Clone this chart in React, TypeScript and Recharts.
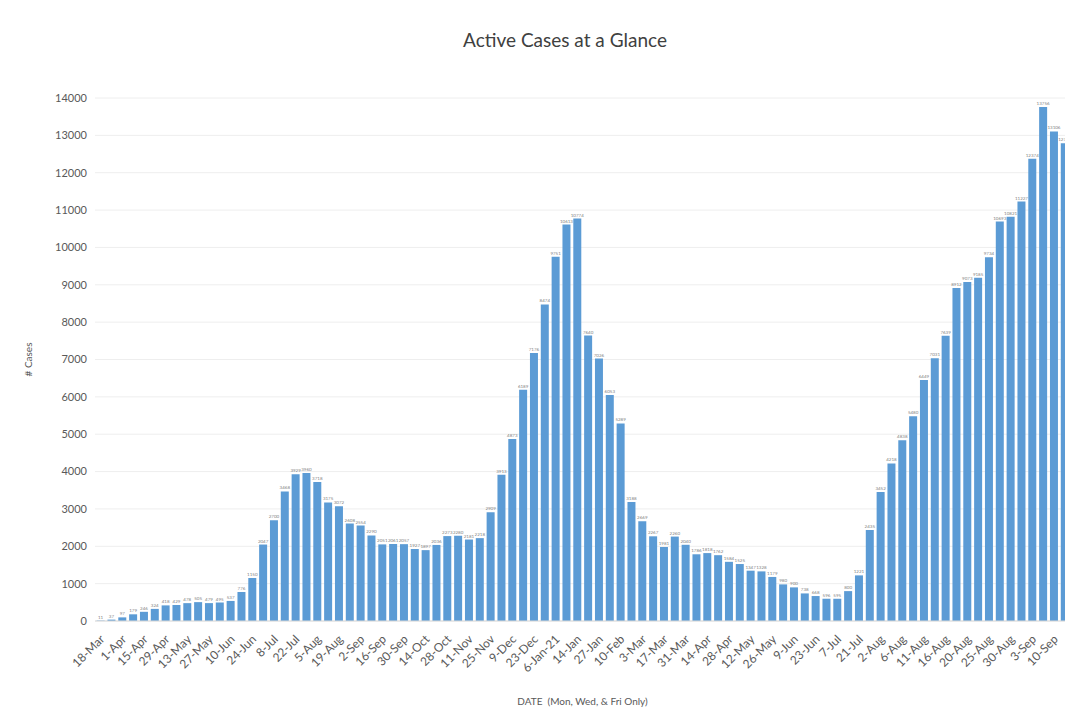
import { BarChart, Bar, XAxis, YAxis, CartesianGrid, LabelList } from "recharts";

const dates = [
  "18-Mar", "25-Mar", "1-Apr", "8-Apr", "15-Apr", "22-Apr", "29-Apr", "6-May", "13-May", "20-May",
  "27-May", "3-Jun", "10-Jun", "17-Jun", "24-Jun", "1-Jul", "8-Jul", "15-Jul", "22-Jul", "29-Jul",
  "5-Aug", "12-Aug", "19-Aug", "26-Aug", "2-Sep", "9-Sep", "16-Sep", "23-Sep", "30-Sep", "7-Oct",
  "14-Oct", "21-Oct", "28-Oct", "4-Nov", "11-Nov", "18-Nov", "25-Nov", "2-Dec", "9-Dec", "16-Dec",
  "23-Dec", "30-Dec", "6-Jan-21", "10-Jan", "14-Jan", "20-Jan", "27-Jan", "3-Feb", "10-Feb", "24-Feb",
  "3-Mar", "10-Mar", "17-Mar", "24-Mar", "31-Mar", "7-Apr", "14-Apr", "21-Apr", "28-Apr", "5-May",
  "12-May", "19-May", "26-May", "2-Jun", "9-Jun", "16-Jun", "23-Jun", "30-Jun", "7-Jul", "14-Jul",
  "21-Jul", "28-Jul", "2-Aug", "4-Aug", "6-Aug", "9-Aug", "11-Aug", "13-Aug", "16-Aug", "18-Aug",
  "20-Aug", "23-Aug", "25-Aug", "27-Aug", "30-Aug", "1-Sep", "3-Sep", "8-Sep", "10-Sep", "13-Sep",
];

const activeCases = [
  11, 37, 97, 179, 246, 324, 418, 429, 478, 505,
  479, 495, 537, 776, 1150, 2047, 2700, 3468, 3929, 3960,
  3718, 3175, 3072, 2608, 2554, 2290, 2051, 2061, 2057, 1927,
  1897, 2036, 2273, 2280, 2181, 2218, 2909, 3913, 4873, 6189,
  7176, 8474, 9751, 10613, 10774, 7640, 7026, 6053, 5289, 3188,
  2669, 2267, 1981, 2260, 2040, 1786, 1818, 1762, 1584, 1525,
  1347, 1328, 1179, 980, 900, 738, 668, 596, 595, 800,
  1221, 2435, 3452, 4218, 4838, 5480, 6449, 7031, 7639, 8912,
  9073, 9185, 9734, 10693, 10821, 11227, 12374, 13756, 13106, 12790,
];

const yTicks = [0, 1000, 2000, 3000, 4000, 5000, 6000, 7000, 8000, 9000, 10000, 11000, 12000, 13000, 14000];

const data = dates.map((date, i) => ({ date, cases: activeCases[i] }));

const FONT = "Lato, 'Open Sans', sans-serif";

function DateTick({ x, y, payload }: any) {
  const ax = x + 2;
  const ay = y + 8;
  return (
    <text
      x={ax}
      y={ay}
      dy="0.35em"
      textAnchor="end"
      fill="#595959"
      fontSize={12}
      fontFamily={FONT}
      transform={`rotate(-45, ${ax}, ${ay})`}
    >
      {payload.value}
    </text>
  );
}

export default function App() {
  return (
    <div
      style={{
        position: "fixed",
        left: 0,
        top: 0,
        width: 1065,
        height: 723,
        overflow: "hidden",
        background: "#fff",
        fontFamily: FONT,
      }}
    >
      <div
        style={{
          position: "absolute",
          left: 0,
          width: 1130,
          top: 28,
          textAlign: "center",
          fontSize: 19,
          color: "#404040",
        }}
      >
        Active Cases at a Glance
      </div>
      <BarChart
        width={1070}
        height={723}
        data={data}
        margin={{ top: 98, right: 0, bottom: 0, left: 0 }}
        barCategoryGap="15%"
        style={{ fontFamily: FONT }}
      >
        <CartesianGrid vertical={false} stroke="#eeeeee" />
        <XAxis
          dataKey="date"
          interval={1}
          height={102}
          tickLine={false}
          axisLine={{ stroke: "#d9d9d9" }}
          tick={<DateTick />}
          label={{
            value: "DATE \u00A0(Mon, Wed, & Fri Only)",
            position: "insideBottom",
            offset: 18,
            fill: "#595959",
            fontSize: 10,
          }}
        />
        <YAxis
          width={95}
          domain={[0, 14000]}
          ticks={yTicks}
          axisLine={false}
          tickLine={false}
          tick={{ fill: "#595959", fontSize: 11 }}
          label={{
            value: "# Cases",
            angle: -90,
            position: "insideLeft",
            offset: 28,
            fill: "#595959",
            fontSize: 10,
            style: { textAnchor: "middle" },
          }}
        />
        <Bar dataKey="cases" fill="#5B9BD5" isAnimationActive={false}>
          <LabelList dataKey="cases" position="top" offset={2} fontSize={4.5} fill="#7f7f7f" />
        </Bar>
      </BarChart>
    </div>
  );
}
